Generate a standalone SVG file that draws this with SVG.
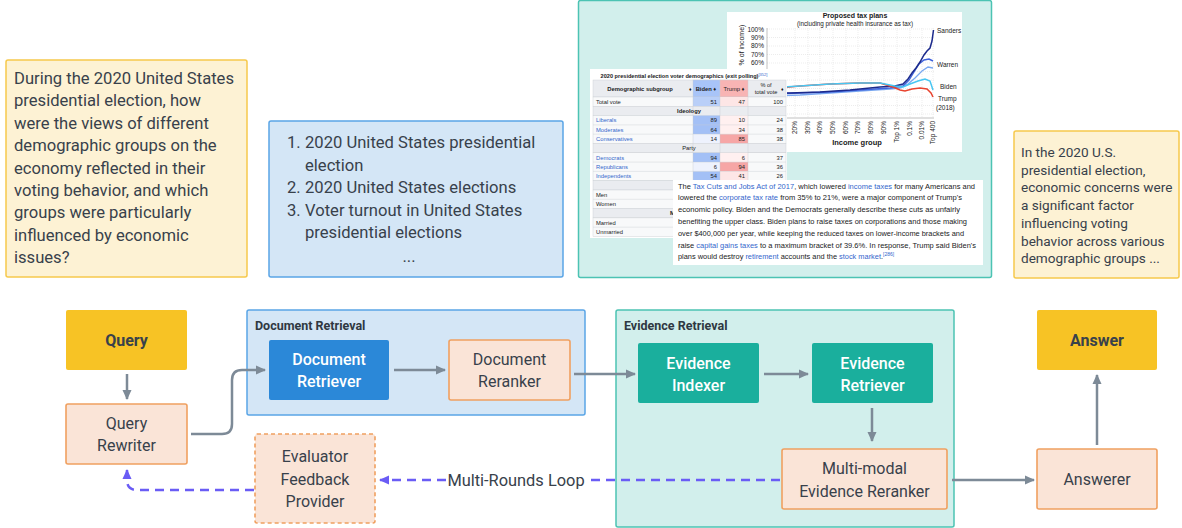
<svg xmlns="http://www.w3.org/2000/svg" width="1182" height="528" viewBox="0 0 1182 528">
<defs>
<marker id="ag" markerUnits="userSpaceOnUse" markerWidth="10" markerHeight="10" viewBox="0 0 10 10" refX="9" refY="5" orient="auto"><path d="M0,0.5 L10,5 L0,9.5 z" fill="#7d8a97"/></marker>
<marker id="ap" markerUnits="userSpaceOnUse" markerWidth="10" markerHeight="10" viewBox="0 0 10 10" refX="9" refY="5" orient="auto"><path d="M0,0.5 L10,5 L0,9.5 z" fill="#6a5cf5"/></marker>
<style>
.t{font-family:Roboto,"Liberation Sans",sans-serif;fill:#38414b}
.q{font-size:16.6px}
.a{font-size:13.6px}
.n{font-size:16px;text-anchor:middle}
.w{fill:#ffffff;font-weight:500}
.b{font-weight:bold}
.g{font-size:12.5px;font-weight:bold;fill:#2f3842}
.yel{fill:#f7c325}
.org{fill:#fae4d7;stroke:#f0a060;stroke-width:1.6}
.c{fill:none;stroke:#7d8a97;stroke-width:2.5}
.p{fill:none;stroke:#6a5cf5;stroke-width:2.5;stroke-dasharray:9 6}
.s{font-family:"Liberation Sans",Arial,sans-serif;fill:#202122}
.lk{fill:#3366cc}
.cell{stroke:#c8ccd1;stroke-width:0.4}
.grid{stroke:#d9d9d9;stroke-width:0.5;stroke-dasharray:1 1}
</style>
</defs>
<rect width="1182" height="528" fill="#ffffff"/>

<!-- Question text box -->
<g id="question">
<rect x="6" y="60" width="241" height="217" rx="2" fill="#fdf2d4" stroke="#f6c94c" stroke-width="1.5"/>
<text class="t q" x="14" y="84">During the 2020 United States</text>
<text class="t q" x="14" y="106.4">presidential election, how</text>
<text class="t q" x="14" y="128.8">were the views of different</text>
<text class="t q" x="14" y="151.2">demographic groups on the</text>
<text class="t q" x="14" y="173.6">economy reflected in their</text>
<text class="t q" x="14" y="196">voting behavior, and which</text>
<text class="t q" x="14" y="218.4">groups were particularly</text>
<text class="t q" x="14" y="240.8">influenced by economic</text>
<text class="t q" x="14" y="263.2">issues?</text>
</g>

<!-- Retrieved documents list -->
<g id="doclist">
<rect x="269" y="121" width="294" height="156" rx="2" fill="#d4e6f6" stroke="#5aa5e6" stroke-width="1.5"/>
<text class="t q" x="287" y="148">1.</text><text class="t q" x="305" y="148">2020 United States presidential</text>
<text class="t q" x="305" y="170.5">election</text>
<text class="t q" x="287" y="193">2.</text><text class="t q" x="305" y="193">2020 United States elections</text>
<text class="t q" x="287" y="215.5">3.</text><text class="t q" x="305" y="215.5">Voter turnout in United States</text>
<text class="t q" x="305" y="238">presidential elections</text>
<text class="t q" x="409" y="262" text-anchor="middle">...</text>
</g>

<!-- Evidence screenshots panel -->
<g id="evidence-panel">
<rect x="578.5" y="0.5" width="413" height="277" rx="2" fill="#d2efec" stroke="#4cc3b3" stroke-width="1.5"/>
<!-- chart -->
<g id="chart">
<rect x="727" y="12" width="235" height="140" fill="#ffffff"/>
<text class="s b" x="855" y="18" font-size="7" text-anchor="middle">Proposed tax plans</text>
<text class="s" x="855" y="25.5" font-size="6.3" text-anchor="middle" fill="#333">(including private health insurance as tax)</text>
<text class="s" font-size="7" text-anchor="middle" transform="translate(744,45) rotate(-90)">% of income)</text>
<g class="s" font-size="6.5" text-anchor="end">
<text x="764" y="31.5">100%</text><text x="764" y="39.5">90%</text><text x="764" y="48">80%</text><text x="764" y="56.5">70%</text><text x="764" y="65">60%</text>
</g>
<g class="grid">
<path d="M795 28V118M808 28V118M820 28V118M833 28V118M846 28V118M858 28V118M871 28V118M884 28V118M897 28V118M910 28V118M922 28V118M933 28V118"/>
<path d="M767 29H934M767 37.5H934M767 46H934M767 54.5H934M767 63H934M767 71.5H934M767 80H934M767 88.5H934M767 97H934M767 105.5H934M767 114H934"/>
</g>
<path d="M767 28V118H934" fill="none" stroke="#999" stroke-width="0.6"/>
<polyline fill="none" stroke="#7aa8f0" stroke-width="1.3" points="767,96 800,95 830,93 860,91 890,89 900,88 908,84 915,78 922,71 928,67 933,68"/>
<polyline fill="none" stroke="#3f62dc" stroke-width="1.4" points="767,94 800,93 830,92 860,90 890,88 903,86 909,80 914,72 919,64 924,60 929,59 933,61"/>
<polyline fill="none" stroke="#1c2a8c" stroke-width="1.5" points="767,93 790,93 820,92 850,90 880,87 895,86 903,84 908,79 912,73 916,68 920,62 924,55 927,51 930,48 932,41 933.5,30"/>
<polyline fill="none" stroke="#e8432e" stroke-width="1.5" points="767,89 800,86 830,84 860,83 880,83 893,87 900,90 905,91 912,89 920,88 927,89 931,93 933,97"/>
<polyline fill="none" stroke="#48c6f2" stroke-width="1.5" points="767,88 800,86 830,84 860,83 880,83 895,86 903,87 910,84 918,81 925,79 930,81 933,90"/>
<g class="s" font-size="6.5" text-anchor="end">
<text transform="translate(797,121) rotate(-90)">20%</text>
<text transform="translate(810,121) rotate(-90)">30%</text>
<text transform="translate(822,121) rotate(-90)">40%</text>
<text transform="translate(835,121) rotate(-90)">50%</text>
<text transform="translate(848,121) rotate(-90)">60%</text>
<text transform="translate(860,121) rotate(-90)">70%</text>
<text transform="translate(873,121) rotate(-90)">80%</text>
<text transform="translate(886,121) rotate(-90)">90%</text>
<text transform="translate(899,121) rotate(-90)">Top 1%</text>
<text transform="translate(912,121) rotate(-90)">0.1%</text>
<text transform="translate(924,121) rotate(-90)">0.01%</text>
<text transform="translate(935,121) rotate(-90)">Top 400</text>
</g>
<text class="s b" x="857" y="145" font-size="7.5" text-anchor="middle">Income group</text>
<g class="s" font-size="6.5">
<text x="937" y="33">Sanders</text><text x="937" y="67">Warren</text><text x="940" y="89">Biden</text><text x="938" y="101">Trump</text><text x="936" y="109.5">(2018)</text>
</g>
</g>
<!-- table -->
<g id="table">
<rect x="590" y="69" width="197" height="169" fill="#ffffff"/>
<text class="s b" x="684" y="78" font-size="5.6" text-anchor="middle">2020 presidential election voter demographics (exit polling)<tspan class="lk" font-size="4" dy="-2" font-weight="normal">[352]</tspan></text>
<rect x="593" y="80" width="193" height="17" fill="#eaecf0" class="cell"/>
<rect x="693" y="80" width="27" height="17" fill="#a8c4f8" class="cell"/>
<rect x="720" y="80" width="28" height="17" fill="#f8b4b4" class="cell"/>
<text class="s b" x="640" y="90.5" font-size="5.8" text-anchor="middle">Demographic subgroup</text>
<text class="s" x="689" y="90.5" font-size="5" fill="#555">♦</text>
<text class="s b" x="706" y="90.5" font-size="5.8" text-anchor="middle">Biden ♦</text>
<text class="s" x="734" y="90.5" font-size="5.8" text-anchor="middle">Trump ♦</text>
<text class="s" x="766" y="87" font-size="5.6" text-anchor="middle">% of</text>
<text class="s" x="766" y="94" font-size="5.6" text-anchor="middle">total vote</text>
<text class="s" x="781" y="90.5" font-size="5" fill="#555">♦</text>
<!-- rows -->
<g>
<rect x="593" y="97" width="193" height="9.3" fill="#f8f9fa" class="cell"/>
<rect x="693" y="97" width="27" height="9.3" fill="#b9cff8"/>
<rect x="720" y="97" width="28" height="9.3" fill="#fde6e6"/>
<rect x="593" y="106.3" width="193" height="9.3" fill="#eaecf0" class="cell"/>
<rect x="593" y="115.6" width="193" height="27.9" fill="#f8f9fa" class="cell"/>
<rect x="693" y="115.6" width="27" height="18.6" fill="#a3c0f6"/>
<rect x="720" y="115.6" width="28" height="18.6" fill="#fff0f0"/>
<rect x="693" y="134.2" width="27" height="9.3" fill="#eef2fd"/>
<rect x="720" y="134.2" width="28" height="9.3" fill="#f6a6a6"/>
<rect x="593" y="143.5" width="193" height="9.3" fill="#eaecf0" class="cell"/>
<rect x="593" y="152.8" width="193" height="27.9" fill="#f8f9fa" class="cell"/>
<rect x="693" y="152.8" width="27" height="9.3" fill="#a3c0f6"/>
<rect x="720" y="152.8" width="28" height="9.3" fill="#fff0f0"/>
<rect x="693" y="162.1" width="27" height="9.3" fill="#eef2fd"/>
<rect x="720" y="162.1" width="28" height="9.3" fill="#f6a6a6"/>
<rect x="693" y="171.4" width="27" height="9.3" fill="#a3c0f6"/>
<rect x="720" y="171.4" width="28" height="9.3" fill="#fde6e6"/>
<rect x="593" y="180.7" width="193" height="9.3" fill="#eaecf0" class="cell"/>
<rect x="593" y="190" width="193" height="18.6" fill="#f8f9fa" class="cell"/>
<rect x="593" y="208.6" width="193" height="9.3" fill="#eaecf0" class="cell"/>
<rect x="593" y="217.9" width="193" height="18.6" fill="#f8f9fa" class="cell"/>
<path class="cell" d="M593 124.9H786M593 134.2H786M593 162.1H786M593 171.4H786M593 199.3H786M593 227.2H786M693 97V236.5M720 97V236.5M748 97V236.5"/>
</g>
<g class="s" font-size="5.8">
<text x="596" y="103.7">Total vote</text>
<text x="689" y="113" text-anchor="middle" font-weight="bold">Ideology</text>
<text x="596" y="122.3" class="lk">Liberals</text>
<text x="596" y="131.6" class="lk">Moderates</text>
<text x="596" y="140.9" class="lk">Conservatives</text>
<text x="689" y="150.2" text-anchor="middle">Party</text>
<text x="596" y="159.5" class="lk">Democrats</text>
<text x="596" y="168.8" class="lk">Republicans</text>
<text x="596" y="178.1" class="lk">Independents</text>
<text x="596" y="196.7">Men</text>
<text x="596" y="206">Women</text>
<text x="670" y="215.3" font-weight="bold">M</text>
<text x="596" y="224.6">Married</text>
<text x="596" y="233.9">Unmarried</text>
</g>
<g class="s" font-size="5.8" text-anchor="end" fill="#333">
<text x="717" y="103.7">51</text><text x="745" y="103.7">47</text><text x="783" y="103.7">100</text>
<text x="717" y="122.3">89</text><text x="745" y="122.3">10</text><text x="783" y="122.3">24</text>
<text x="717" y="131.6">64</text><text x="745" y="131.6">34</text><text x="783" y="131.6">38</text>
<text x="717" y="140.9">14</text><text x="745" y="140.9">85</text><text x="783" y="140.9">38</text>
<text x="717" y="159.5">94</text><text x="745" y="159.5">6</text><text x="783" y="159.5">37</text>
<text x="717" y="168.8">6</text><text x="745" y="168.8">94</text><text x="783" y="168.8">36</text>
<text x="717" y="178.1">54</text><text x="745" y="178.1">41</text><text x="783" y="178.1">26</text>
</g>
</g>
<!-- paragraph -->
<g id="paragraph" class="s" font-size="7.4">
<rect x="673" y="180" width="310" height="85" fill="#ffffff"/>
<text x="678" y="188.5" textLength="297" lengthAdjust="spacingAndGlyphs">The <tspan class="lk">Tax Cuts and Jobs Act of 2017</tspan>, which lowered <tspan class="lk">income taxes</tspan> for many Americans and</text>
<text x="678" y="200.3" textLength="284" lengthAdjust="spacingAndGlyphs">lowered the <tspan class="lk">corporate tax rate</tspan> from 35% to 21%, were a major component of Trump's</text>
<text x="678" y="212.1" textLength="282" lengthAdjust="spacingAndGlyphs">economic policy. Biden and the Democrats generally describe these cuts as unfairly</text>
<text x="678" y="223.9" textLength="289" lengthAdjust="spacingAndGlyphs">benefiting the upper class. Biden plans to raise taxes on corporations and those making</text>
<text x="678" y="235.7" textLength="286" lengthAdjust="spacingAndGlyphs">over $400,000 per year, while keeping the reduced taxes on lower-income brackets and</text>
<text x="678" y="247.5" textLength="298" lengthAdjust="spacingAndGlyphs">raise <tspan class="lk">capital gains taxes</tspan> to a maximum bracket of 39.6%. In response, Trump said Biden's</text>
<text x="678" y="259.3">plans would destroy <tspan class="lk">retirement</tspan> accounts and the <tspan class="lk">stock market</tspan>.<tspan class="lk" font-size="5" dy="-3">[286]</tspan></text>
</g>
</g>

<!-- Answer text box -->
<g id="answer-text">
<rect x="1014" y="131" width="165" height="147" rx="2" fill="#fdf2d4" stroke="#f6c94c" stroke-width="1.5"/>
<text class="t a" x="1021" y="157">In the 2020 U.S.</text>
<text class="t a" x="1021" y="174.7">presidential election,</text>
<text class="t a" x="1021" y="192.4">economic concerns were</text>
<text class="t a" x="1021" y="210.1">a significant factor</text>
<text class="t a" x="1021" y="227.8">influencing voting</text>
<text class="t a" x="1021" y="245.5">behavior across various</text>
<text class="t a" x="1021" y="263.2">demographic groups ...</text>
</g>

<!-- Group containers -->
<g id="document-retrieval">
<rect x="247" y="310" width="338" height="105" rx="2" fill="#d4e6f6" stroke="#5aa5e6" stroke-width="1.5"/>
<text class="t g" x="255" y="330">Document Retrieval</text>
</g>
<g id="evidence-retrieval">
<rect x="616" y="310" width="338" height="217" rx="2" fill="#d2efec" stroke="#4cc3b3" stroke-width="1.5"/>
<text class="t g" x="624" y="330">Evidence Retrieval</text>
</g>

<!-- Nodes -->
<g id="query">
<rect x="66" y="310" width="121" height="60" rx="2" class="yel"/>
<text class="t n b" x="126.5" y="346">Query</text>
</g>
<g id="query-rewriter">
<rect x="66" y="404" width="121" height="60" rx="2" class="org"/>
<text class="t n" x="126.5" y="429">Query</text>
<text class="t n" x="126.5" y="451">Rewriter</text>
</g>
<g id="document-retriever">
<rect x="269" y="340" width="120" height="60" rx="2" fill="#2b88d8"/>
<text class="t n w" x="329" y="365">Document</text>
<text class="t n w" x="329" y="387">Retriever</text>
</g>
<g id="document-reranker">
<rect x="449" y="340" width="121" height="60" rx="2" class="org"/>
<text class="t n" x="509.5" y="365">Document</text>
<text class="t n" x="509.5" y="387">Reranker</text>
</g>
<g id="evidence-indexer">
<rect x="638" y="343" width="121" height="60" rx="2" fill="#1aaf9d"/>
<text class="t n w" x="698.5" y="369">Evidence</text>
<text class="t n w" x="698.5" y="391">Indexer</text>
</g>
<g id="evidence-retriever">
<rect x="812" y="343" width="121" height="60" rx="2" fill="#1aaf9d"/>
<text class="t n w" x="872.5" y="369">Evidence</text>
<text class="t n w" x="872.5" y="391">Retriever</text>
</g>
<g id="mm-reranker">
<rect x="782" y="449" width="165" height="60" rx="2" class="org"/>
<text class="t n" x="864.5" y="474">Multi-modal</text>
<text class="t n" x="864.5" y="497">Evidence Reranker</text>
</g>
<g id="answerer">
<rect x="1037" y="449" width="120" height="60" rx="2" class="org"/>
<text class="t n" x="1097" y="485">Answerer</text>
</g>
<g id="answer">
<rect x="1037" y="310" width="120" height="60" rx="2" class="yel"/>
<text class="t n b" x="1097" y="346">Answer</text>
</g>
<g id="evaluator">
<rect x="255" y="434" width="120" height="89" rx="2" fill="#fae4d7" stroke="#f0a060" stroke-width="1.6" stroke-dasharray="4 3"/>
<text class="t n" x="315" y="462">Evaluator</text>
<text class="t n" x="315" y="485">Feedback</text>
<text class="t n" x="315" y="507">Provider</text>
</g>

<!-- Connectors -->
<g id="connectors">
<path class="c" d="M127 374V399" marker-end="url(#ag)"/>
<path class="c" d="M191 434H222Q232 434 232 424V380Q232 370 242 370H265" marker-end="url(#ag)"/>
<path class="c" d="M394 370H445" marker-end="url(#ag)"/>
<path class="c" d="M574 374H635" marker-end="url(#ag)"/>
<path class="c" d="M764 374H808" marker-end="url(#ag)"/>
<path class="c" d="M872 408V441" marker-end="url(#ag)"/>
<path class="c" d="M952 480H1034" marker-end="url(#ag)"/>
<path class="c" d="M1097 445V375" marker-end="url(#ag)"/>
<path class="p" d="M780 480H587"/>
<path class="p" d="M446 480H380" marker-end="url(#ap)"/>
<text class="t" x="516" y="486" font-size="16.4" text-anchor="middle">Multi-Rounds Loop</text>
<path class="p" d="M254 490H137Q127 490 127 480V470" marker-end="url(#ap)"/>
</g>
</svg>
